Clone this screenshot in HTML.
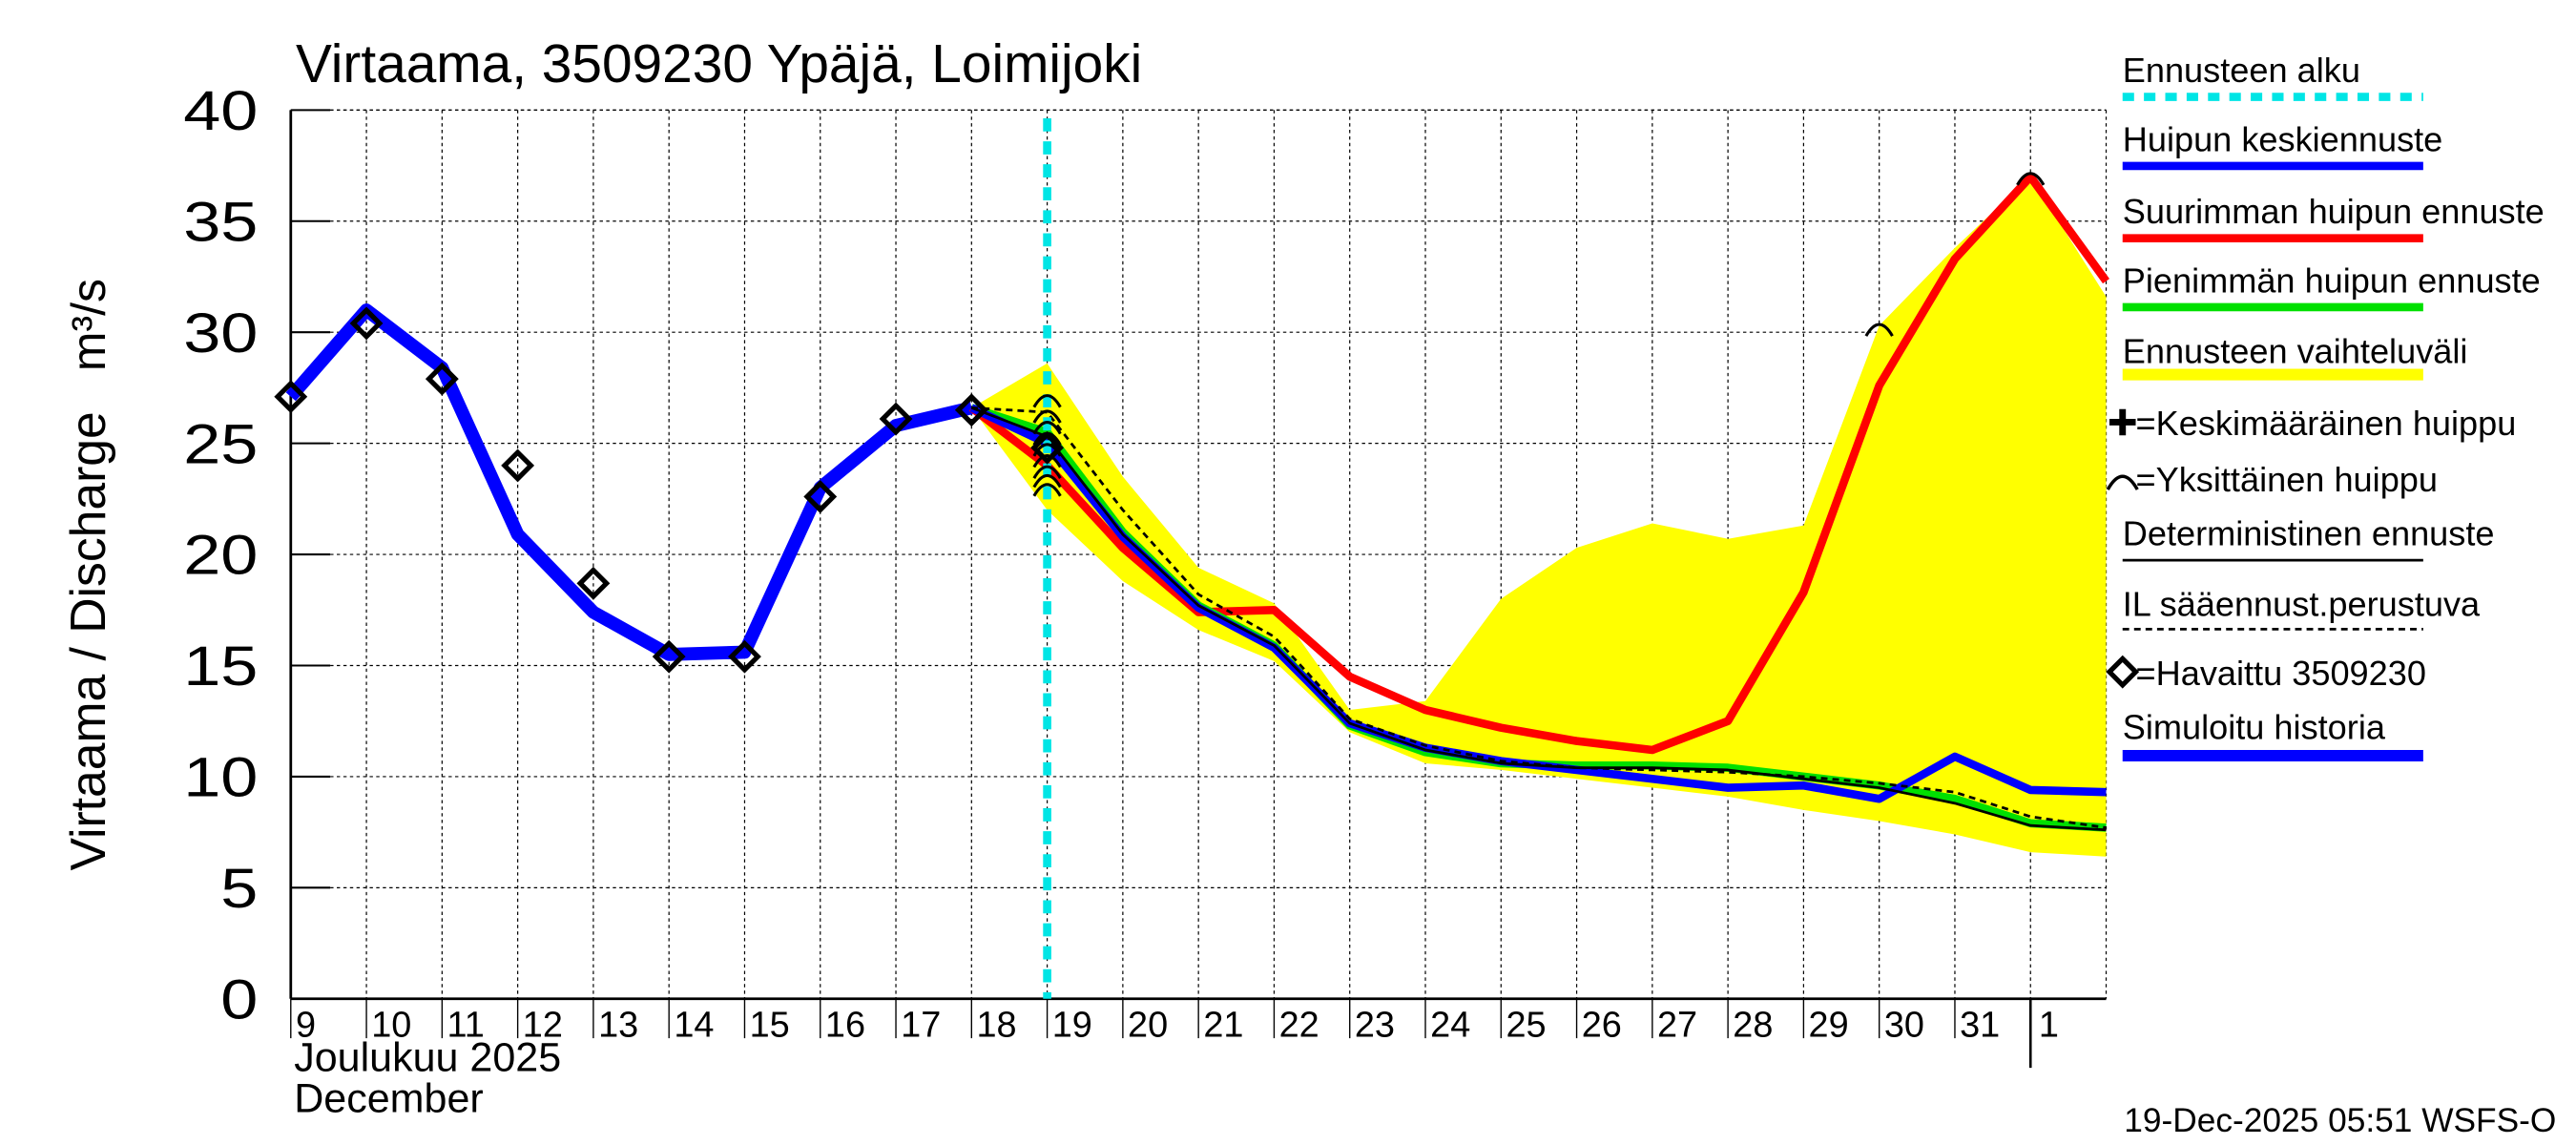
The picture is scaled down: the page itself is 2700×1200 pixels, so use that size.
<!DOCTYPE html>
<html><head><meta charset="utf-8"><style>
html,body{margin:0;padding:0;background:#fff;}
svg{display:block;font-family:"Liberation Sans",sans-serif;}
</style></head><body>
<svg id="chart" width="2700" height="1200" viewBox="0 0 1568 697" preserveAspectRatio="none" xmlns="http://www.w3.org/2000/svg" xml:space="preserve">
<rect width="1568" height="697" fill="#fff"/>
<text x="180" y="50" font-size="33">Virtaama, 3509230 Ypäjä, Loimijoki</text>
<g id="plot"></g>
<text transform="translate(64,530) rotate(-90)" font-size="30">Virtaama / Discharge</text>
<text transform="translate(64,226) rotate(-90)" font-size="29">m³/s</text>
<text x="179" y="652" font-size="25">Joulukuu  2025</text>
<text x="179" y="677" font-size="25">December</text>
<text x="1556" y="689" text-anchor="end" font-size="20.5">19-Dec-2025 05:51 WSFS-O</text>
<g id="legend"></g>
</svg>
<script>
const dayLabels = ["9","10","11","12","13","14","15","16","17","18","19","20","21","22","23","24","25","26","27","28","29","30","31","1"];
const yTicks = [0,5,10,15,20,25,30,35,40];
const histDays = [0,1,2,3,4,5,6,7,8,9];
const histValues = [27.1,31.0,28.4,20.9,17.4,15.5,15.6,23.0,25.8,26.6];
const obsDays = [0,1,2,3,4,5,6,7,8,9,10];
const obsValues = [27.1,30.4,27.9,24.0,18.7,15.4,15.4,22.6,26.1,26.5,24.8];
const fcDays = [9,10,11,12,13,14,15,16,17,18,19,20,21,22,23,24];
const bandUpper = [26.6,28.6,23.5,19.4,17.8,13.0,13.4,18.0,20.3,21.4,20.7,21.3,30.3,33.8,37.0,31.6];
const bandLower = [26.6,22.0,18.8,16.6,15.2,12.0,10.6,10.3,9.9,9.5,9.1,8.5,8.0,7.4,6.6,6.4];
const redValues = [26.6,24.0,20.3,17.4,17.5,14.5,13.0,12.2,11.6,11.2,12.5,18.3,27.6,33.3,37.0,32.3];
const greenValues = [26.6,25.5,21.0,17.7,15.9,12.3,11.1,10.6,10.5,10.5,10.4,10.0,9.6,9.0,7.9,7.7];
const blueValues = [26.6,25.0,20.8,17.6,15.8,12.4,11.3,10.7,10.3,9.9,9.5,9.6,9.0,10.9,9.4,9.3];
const detValues = [26.6,25.3,20.9,17.7,15.9,12.4,11.2,10.6,10.4,10.4,10.3,9.9,9.5,8.8,7.8,7.6];
const ilValues = [26.6,26.4,22.0,18.2,16.3,12.6,11.4,10.7,10.4,10.3,10.2,10.0,9.7,9.3,8.2,7.7];
const peakDays = [10,10,10,10,10,10,10,10,10,21,23];
const peakValues = [27.0,26.3,25.8,25.3,24.8,24.3,23.8,23.4,23.0,30.2,37.0];
const forecastStartDay = 10;

const NS="http://www.w3.org/2000/svg";
const X0=177,X1=1282,Y0=608,Y1=67,XMAX=24,YMAX=40;
const xs=d=>X0+(X1-X0)*d/XMAX;
const ys=v=>Y0-(Y0-Y1)*v/YMAX;
const plot=document.getElementById('plot');
function mk(tag,attrs,parent){const e=document.createElementNS(NS,tag);for(const k in attrs)e.setAttribute(k,attrs[k]);(parent||plot).appendChild(e);return e;}
function pts(days,vals){return days.map((d,i)=>xs(d)+','+ys(vals[i])).join(' ');}

yTicks.forEach(v=>{
 if(v>0){const g=mk('line',{x1:X0,x2:X1,y1:ys(v),y2:ys(v),stroke:'#000','stroke-width':0.7,'stroke-dasharray':'2,2'});
 
 }
 const t=mk('line',{x1:X0,x2:X0+24,y1:ys(v),y2:ys(v),stroke:'#000','stroke-width':1.2});
 
 
 const l=mk('text',{transform:`translate(157,${ys(v)+12}) scale(1.2,1)`,'text-anchor':'end','font-size':34});
 l.textContent=v;
 
 
});
dayLabels.forEach((s,i)=>{
 if(i>0){const g=mk('line',{x1:xs(i),x2:xs(i),y1:Y1,y2:Y0,stroke:'#000','stroke-width':0.7,'stroke-dasharray':'2,2'});
 
 }
 const t=mk('line',{x1:xs(i),x2:xs(i),y1:Y0,y2:i===23?650:632,stroke:'#000','stroke-width':i===23?1.5:0.8});
 
 
 const l=mk('text',{x:xs(i)+(i===23?5:3),y:631,'font-size':22});
 l.textContent=s;
 
 
});
const rb=mk('line',{x1:X1,x2:X1,y1:Y1,y2:Y0,stroke:'#000','stroke-width':0.7,'stroke-dasharray':'2,2'});


const tb=mk('line',{x1:X0,x2:X1,y1:Y1,y2:Y1,stroke:'#000','stroke-width':0.7,'stroke-dasharray':'2,2'});



const bandPts=fcDays.map((d,i)=>xs(d)+','+ys(bandUpper[i])).concat(fcDays.slice().reverse().map((d,j)=>xs(d)+','+ys(bandLower[fcDays.length-1-j])));
const band=mk('polygon',{points:bandPts.join(' '),fill:'#ffff00'});



const ax=mk('line',{x1:X0,x2:X0,y1:Y1,y2:Y0,stroke:'#000','stroke-width':1.6});


const axx=mk('line',{x1:X0,x2:X1,y1:Y0,y2:Y0,stroke:'#000','stroke-width':1.6});



function series(days,vals,color,w,name,dash){
 const p=mk('polyline',{points:pts(days,vals),fill:'none',stroke:color,'stroke-width':w,'stroke-linejoin':'round'});
 if(dash)p.setAttribute('stroke-dasharray',dash);
 
 
}
series(histDays,histValues,'#0000ff',8,'simulated-history-line');
series(fcDays,redValues,'#ff0000',5,'max-peak-forecast-line');
series(fcDays,greenValues,'#00e000',5,'min-peak-forecast-line');
series(fcDays,blueValues,'#0000ff',5,'mean-peak-forecast-line');
series(fcDays,detValues,'#000',1.6,'deterministic-forecast-line');
series(fcDays,ilValues,'#000',1.6,'il-weather-forecast-line','4,3');

const fl=mk('line',{x1:xs(forecastStartDay),x2:xs(forecastStartDay),y1:Y1+5,y2:Y0,stroke:'#00e5e5','stroke-width':5,'stroke-dasharray':'8,6'});



peakDays.forEach((d,i)=>{
 const x=xs(d),y=ys(peakValues[i]);
 const a=mk('path',{d:`M${x-8},${y+5} Q${x},${y-9} ${x+8},${y+5}`,fill:'none',stroke:'#000','stroke-width':1.8});
 
 
});
obsDays.forEach((d,i)=>{
 const x=xs(d),y=ys(obsValues[i]);
 const m=mk('polygon',{points:`${x},${y-8} ${x+8},${y} ${x},${y+8} ${x-8},${y}`,fill:'none',stroke:'#000','stroke-width':3});
 
 
});

const lg=document.getElementById('legend');
function ltext(y,s,name,x){const t=mk('text',{x:x||1292,y:y,'font-size':21},lg);t.textContent=s;}
function lline(y,color,w,name,dash){const l=mk('line',{x1:1292,x2:1475,y1:y,y2:y,stroke:color,'stroke-width':w},lg);if(dash)l.setAttribute('stroke-dasharray',dash);}
ltext(50,'Ennusteen alku','legend-forecast-start-label');lline(59,'#00e5e5',5,'legend-forecast-start-swatch','7,6');
ltext(92,'Huipun keskiennuste','legend-mean-peak-label');lline(101,'#0000ff',5,'legend-mean-peak-swatch');
ltext(136,'Suurimman huipun ennuste','legend-max-peak-label');lline(145,'#ff0000',5,'legend-max-peak-swatch');
ltext(178,'Pienimmän huipun ennuste','legend-min-peak-label');lline(187,'#00e000',5,'legend-min-peak-swatch');
ltext(221,'Ennusteen vaihteluväli','legend-range-label');lline(228,'#ffff00',7,'legend-range-swatch');
const pl=mk('path',{d:'M1284,257 h16 M1292,249 v16',stroke:'#000','stroke-width':4},lg);


ltext(265,'=Keskimääräinen huippu','legend-mean-peak-marker',1300);
const ar=mk('path',{d:'M1283,298 Q1292,282 1301,298',fill:'none',stroke:'#000','stroke-width':2},lg);


ltext(299,'=Yksittäinen huippu','legend-single-peak-marker',1300);
ltext(332,'Deterministinen ennuste','legend-deterministic-label');lline(341,'#000',1.6,'legend-deterministic-swatch');
ltext(375,'IL sääennust.perustuva','legend-il-label');lline(383,'#000',1.6,'legend-il-swatch','4,3');
const dm=mk('polygon',{points:'1292,401 1300,409 1292,417 1284,409',fill:'none',stroke:'#000','stroke-width':3},lg);


ltext(417,'=Havaittu 3509230','legend-observed-label',1300);
ltext(450,'Simuloitu historia','legend-simulated-label');lline(460,'#0000ff',7,'legend-simulated-swatch');
</script>
</body></html>
